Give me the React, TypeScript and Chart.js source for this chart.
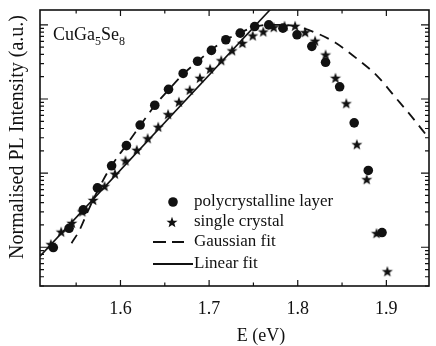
import React, { useEffect, useRef } from 'react';
import { Chart, registerables } from 'chart.js';

Chart.register(...registerables);

// ---- Data ----
const polyE = [1.5242, 1.542, 1.558, 1.574, 1.590, 1.6067, 1.6222, 1.6387, 1.6542, 1.6707, 1.687, 1.7026, 1.7189, 1.7351, 1.7514, 1.7673, 1.7833, 1.7992, 1.8159, 1.8314, 1.8473, 1.8637, 1.8796, 1.8951];
const polyI = [9.9e-4, 1.8e-3, 3.19e-3, 6.32e-3, 0.01256, 0.0235, 0.0445, 0.0824, 0.135, 0.221, 0.323, 0.453, 0.63, 0.774, 0.949, 1.0, 0.903, 0.735, 0.513, 0.313, 0.146, 0.0477, 0.01087, 1.58e-3];

const singleE = [1.5214, 1.5331, 1.5451, 1.557, 1.5692, 1.582, 1.5937, 1.6056, 1.6184, 1.6307, 1.6426, 1.6537, 1.6659, 1.6781, 1.6896, 1.7011, 1.7137, 1.7259, 1.7376, 1.7492, 1.7611, 1.7729, 1.7851, 1.797, 1.8084, 1.8196, 1.8314, 1.8426, 1.8548, 1.8667, 1.8778, 1.8889, 1.9011];
const singleI = [1.1e-3, 1.62e-3, 2.13e-3, 3.04e-3, 4.34e-3, 6.68e-3, 9.82e-3, 0.0148, 0.0206, 0.0295, 0.0422, 0.0624, 0.0918, 0.1328, 0.193, 0.255, 0.333, 0.453, 0.569, 0.719, 0.813, 0.932, 0.97, 0.97, 0.798, 0.611, 0.397, 0.193, 0.0876, 0.0245, 8.28e-3, 1.55e-3, 4.74e-4];

const gaussE = [1.5448, 1.5537, 1.5626, 1.5737, 1.5892, 1.6059, 1.6226, 1.6381, 1.6548, 1.6703, 1.687, 1.7026, 1.7192, 1.7348, 1.7514, 1.767, 1.7826, 1.7981, 1.8203, 1.8426, 1.8681, 1.8903, 1.9092, 1.9281, 1.9459];
const gaussI = [1.135e-3, 1.69e-3, 2.95e-3, 5.64e-3, 0.0122, 0.0233, 0.0445, 0.0798, 0.135, 0.214, 0.32, 0.463, 0.63, 0.782, 0.94, 1.0, 1.0, 0.955, 0.782, 0.574, 0.34, 0.201, 0.1087, 0.0587, 0.0317];

const linearE = [1.509, 1.78];
const linearI = [7.53e-4, 2.23];

const xMajorTicks = [1.6, 1.7, 1.8, 1.9];
const xMinorTicks = [1.55, 1.65, 1.75, 1.85];
const yDecades = [1e-4, 1e-3, 1e-2, 1e-1, 1];
const yMinorFactors = [2, 3, 4, 5, 6, 7, 8, 9];

const legendLabels = ['polycrystalline layer', 'single crystal', 'Gaussian fit', 'Linear fit'];
const yTitle = 'Normalised PL Intensity (a.u.)';
const xTitle = 'E (eV)';

const FONT = '"Liberation Serif", "Times New Roman", serif';
const INK = '#111';

function makeStar(r: number): HTMLCanvasElement {
  const s = Math.ceil(r * 2 + 2);
  const c = document.createElement('canvas');
  c.width = s;
  c.height = s;
  const ctx = c.getContext('2d')!;
  ctx.beginPath();
  for (let i = 0; i < 10; i++) {
    const rad = i % 2 === 0 ? r : r * 0.42;
    const a = -Math.PI / 2 + (i * Math.PI) / 5;
    const px = s / 2 + rad * Math.cos(a);
    const py = s / 2 + 0.6 + rad * Math.sin(a);
    if (i === 0) ctx.moveTo(px, py);
    else ctx.lineTo(px, py);
  }
  ctx.closePath();
  ctx.fillStyle = INK;
  ctx.fill();
  return c;
}

const zip = (xs: number[], ys: number[]) => xs.map((x, i) => ({ x, y: ys[i] }));

export default function App() {
  const ref = useRef<HTMLCanvasElement | null>(null);

  useEffect(() => {
    if (!ref.current) return;
    const star = makeStar(5.8);

    const framePlugin = {
      id: 'frameAndLabels',
      afterDraw(chart: any) {
        const ctx = chart.ctx as CanvasRenderingContext2D;
        const { left, right, top, bottom } = chart.chartArea;
        const xs = chart.scales.x;
        const ys = chart.scales.y;
        ctx.save();
        ctx.strokeStyle = INK;
        ctx.lineWidth = 1.6;
        ctx.strokeRect(left, top, right - left, bottom - top);

        ctx.lineWidth = 1.2;
        ctx.beginPath();
        // x ticks (bottom and top, inward)
        const xt = (v: number, len: number) => {
          const p = xs.getPixelForValue(v);
          ctx.moveTo(p, bottom);
          ctx.lineTo(p, bottom - len);
          ctx.moveTo(p, top);
          ctx.lineTo(p, top + len);
        };
        xMajorTicks.forEach((v) => xt(v, 6));
        xMinorTicks.forEach((v) => xt(v, 3.5));
        // y ticks (left and right, inward)
        const yt = (v: number, len: number) => {
          if (v < ys.min || v > ys.max) return;
          const p = ys.getPixelForValue(v);
          ctx.moveTo(left, p);
          ctx.lineTo(left + len, p);
          ctx.moveTo(right, p);
          ctx.lineTo(right - len, p);
        };
        yDecades.forEach((d) => {
          yt(d, 8);
          yMinorFactors.forEach((f) => yt(d * f, 4));
        });
        ctx.stroke();

        // Sample label
        ctx.fillStyle = INK;
        ctx.textBaseline = 'alphabetic';
        ctx.textAlign = 'left';
        let tx = 53;
        const parts: [string, boolean][] = [['CuGa', false], ['5', true], ['Se', false], ['8', true]];
        parts.forEach(([t, sub]) => {
          ctx.font = sub ? `12px ${FONT}` : `18px ${FONT}`;
          ctx.fillText(t, tx, sub ? 45 : 40);
          tx += ctx.measureText(t).width;
        });

        // Axis titles
        ctx.font = `18px ${FONT}`;
        ctx.textAlign = 'center';
        ctx.textBaseline = 'middle';
        ctx.fillText(xTitle, 261, 336);
        ctx.save();
        ctx.translate(18, 137);
        ctx.rotate(-Math.PI / 2);
        ctx.font = `20px ${FONT}`;
        ctx.fillText(yTitle, 0, 0);
        ctx.restore();

        // Legend
        ctx.font = `17px ${FONT}`;
        ctx.textAlign = 'left';
        ctx.textBaseline = 'middle';
        const rows = [202, 222, 242, 264];
        legendLabels.forEach((l, i) => ctx.fillText(l, 194, rows[i]));
        ctx.beginPath();
        ctx.arc(173, rows[0], 4.8, 0, Math.PI * 2);
        ctx.fill();
        ctx.drawImage(star, 172 - star.width / 2, rows[1] - star.height / 2);
        ctx.lineWidth = 1.8;
        ctx.beginPath();
        ctx.moveTo(153, rows[2]);
        ctx.lineTo(166, rows[2]);
        ctx.moveTo(172, rows[2]);
        ctx.lineTo(184, rows[2]);
        ctx.moveTo(153, rows[3]);
        ctx.lineTo(193, rows[3]);
        ctx.stroke();
        ctx.restore();
      },
    };

    const chart = new Chart(ref.current, {
      type: 'scatter',
      data: {
        datasets: [
          {
            label: legendLabels[3],
            data: zip(linearE, linearI),
            showLine: true,
            borderColor: INK,
            borderWidth: 1.6,
            pointRadius: 0,
            order: 4,
          },
          {
            label: legendLabels[2],
            data: zip(gaussE, gaussI),
            showLine: true,
            borderColor: INK,
            borderWidth: 1.8,
            borderDash: [10, 7],
            tension: 0.4,
            cubicInterpolationMode: 'monotone',
            pointRadius: 0,
            order: 3,
          },
          {
            label: legendLabels[1],
            data: zip(singleE, singleI),
            pointStyle: star,
            pointRadius: 6,
            order: 2,
          },
          {
            label: legendLabels[0],
            data: zip(polyE, polyI),
            pointStyle: 'circle',
            pointRadius: 4.8,
            pointBackgroundColor: INK,
            pointBorderColor: INK,
            pointBorderWidth: 0,
            order: 1,
          },
        ],
      } as any,
      options: {
        animation: false,
        responsive: true,
        maintainAspectRatio: false,
        layout: { padding: { top: 10, right: 1, left: 0, bottom: 0 } },
        plugins: { legend: { display: false }, tooltip: { enabled: false } },
        scales: {
          x: {
            type: 'linear',
            position: 'bottom',
            min: 1.5092,
            max: 1.9481,
            grid: { display: false, drawTicks: false },
            border: { display: false },
            ticks: {
              font: { family: FONT, size: 18 },
              color: INK,
              padding: 12,
              maxRotation: 0,
              autoSkip: false,
              callback: (v: any) => Number(v).toFixed(1),
            },
            afterBuildTicks: (s: any) => {
              s.ticks = xMajorTicks.map((v) => ({ value: v }));
            },
            afterFit: (s: any) => {
              s.height = 60;
            },
          },
          y: {
            type: 'logarithmic',
            min: 3.194e-4,
            max: 1.588,
            grid: { display: false, drawTicks: false },
            border: { display: false },
            ticks: { display: false },
            afterFit: (s: any) => {
              s.width = 40;
            },
          },
        },
      } as any,
      plugins: [framePlugin],
    });
    return () => chart.destroy();
  }, []);

  return (
    <div style={{ position: 'fixed', left: 0, top: 0, width: 436, height: 346, background: '#fff' }}>
      <canvas ref={ref} />
    </div>
  );
}
